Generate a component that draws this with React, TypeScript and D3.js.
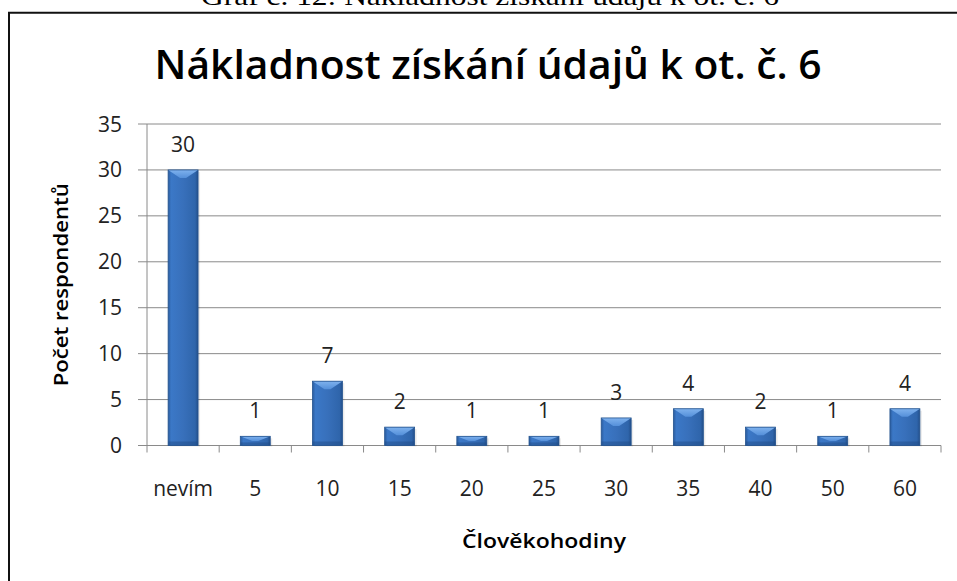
import React from "react";
import * as d3 from "d3";

const categories = ["nevím", "5", "10", "15", "20", "25", "30", "35", "40", "50", "60"];
const counts = [30, 1, 7, 2, 1, 1, 3, 4, 2, 1, 4];
const yTicks = [0, 5, 10, 15, 20, 25, 30, 35];

const caption = "Graf č. 12: Nákladnost získání údajů k ot. č. 6";
const title = "Nákladnost získání údajů k ot. č. 6";
const xTitle = "Člověkohodiny";
const yTitle = "Počet respondentů";

const WIDTH = 957;
const HEIGHT = 581;
const FONT = "'Open Sans', 'Noto Sans', sans-serif";
const GRID = "#8a8a8a";

export default function App() {
    const margin = { top: 124, right: 15, bottom: 135, left: 147 };

    const x = d3.scaleBand<string>()
        .domain(categories)
        .range([margin.left, 941])
        .paddingInner(0.585)
        .paddingOuter(0.2925);

    const y = d3.scaleLinear([0, 35], [445.5, margin.top]);

    const step = x.step();
    const plotRight = x.range()[1];

    return <svg width={WIDTH} height={HEIGHT}
        style={{ position: "absolute", left: 0, top: 0, background: "white" }}
        fontFamily={FONT}>
        <defs>
            <linearGradient id="barBody" x1="0" x2="1" y1="0" y2="0">
                <stop offset="0" stopColor="#2b5c9e" />
                <stop offset="0.1" stopColor="#3b78c7" />
                <stop offset="0.5" stopColor="#3870bb" />
                <stop offset="0.9" stopColor="#2f65ab" />
                <stop offset="1" stopColor="#234f8a" />
            </linearGradient>
            <linearGradient id="barTop" x1="0" x2="0" y1="0" y2="1">
                <stop offset="0" stopColor="#7fb2ee" />
                <stop offset="1" stopColor="#5590da" />
            </linearGradient>
        </defs>

        {/* caption above the frame, cut by the page edge as in the source */}
        <text x={490} y={5} textAnchor="middle" fontFamily="'Liberation Serif', serif"
            fontSize={26} textLength={578} lengthAdjust="spacingAndGlyphs">{caption}</text>

        {/* frame */}
        <path d={`M9,${HEIGHT} V12.7 H${WIDTH}`} fill="none" stroke="#111" strokeWidth={2} />

        <text x={488} y={79} textAnchor="middle" fontWeight={600} fontSize={40}
            textLength={667} lengthAdjust="spacingAndGlyphs">{title}</text>

        {/* gridlines + y ticks */}
        <g>
            {yTicks.map((t) => (
                <g key={t}>
                    <line x1={138} x2={plotRight} y1={y(t)} y2={y(t)} stroke={GRID} strokeWidth={1} />
                    <text x={122} y={y(t) + 7.5} textAnchor="end" fontSize={21} fill="#222">{t}</text>
                </g>
            ))}
        </g>

        {/* axes */}
        <line x1={margin.left} x2={margin.left} y1={y(35)} y2={y(0) + 7} stroke={GRID} />
        {categories.map((c, i) => (
            <line key={c} x1={margin.left + step * (i + 1)} x2={margin.left + step * (i + 1)}
                y1={y(0)} y2={y(0) + 7} stroke={GRID} />
        ))}

        {/* bars */}
        <g>
            {categories.map((c, i) => {
                const x0 = x(c)!;
                const w = x.bandwidth();
                const top = y(counts[i]);
                const h = y(0) - top;
                const b = Math.min(8, h / 2);
                return <g key={c}>
                    <rect x={x0 + 2} y={top + 2} width={w} height={h - 1} fill="#000" opacity={0.08} />
                    <rect x={x0} y={top} width={w} height={h} fill="url(#barBody)" />
                    <rect x={x0} y={y(0) - Math.min(4, h / 3)} width={w} height={Math.min(4, h / 3)} fill="#1f4a82" opacity={0.45} />
                    <polygon points={`${x0},${top} ${x0 + w},${top} ${x0 + w / 2 + 3},${top + b} ${x0 + w / 2 - 3},${top + b}`}
                        fill="url(#barTop)" />
                    <rect x={x0} y={top} width={w} height={h} fill="none" stroke="#25548f" strokeWidth={0.8} />
                    <text x={x0 + w / 2} y={top - 18} textAnchor="middle" fontSize={21} fill="#222">{counts[i]}</text>
                </g>;
            })}
        </g>

        {/* x labels */}
        <g>
            {categories.map((c) => (
                <text key={c} x={x(c)! + x.bandwidth() / 2} y={496} textAnchor="middle"
                    fontSize={21} fill="#222">{c}</text>
            ))}
        </g>

        <text x={(margin.left + plotRight) / 2} y={548} textAnchor="middle" fontWeight={600}
            fontSize={20} textLength={164} lengthAdjust="spacingAndGlyphs">{xTitle}</text>
        <text transform={`translate(68, ${(y(0) + y(35)) / 2}) rotate(-90)`} textAnchor="middle"
            fontWeight={600} fontSize={20} textLength={203} lengthAdjust="spacingAndGlyphs">{yTitle}</text>
    </svg>;
}
